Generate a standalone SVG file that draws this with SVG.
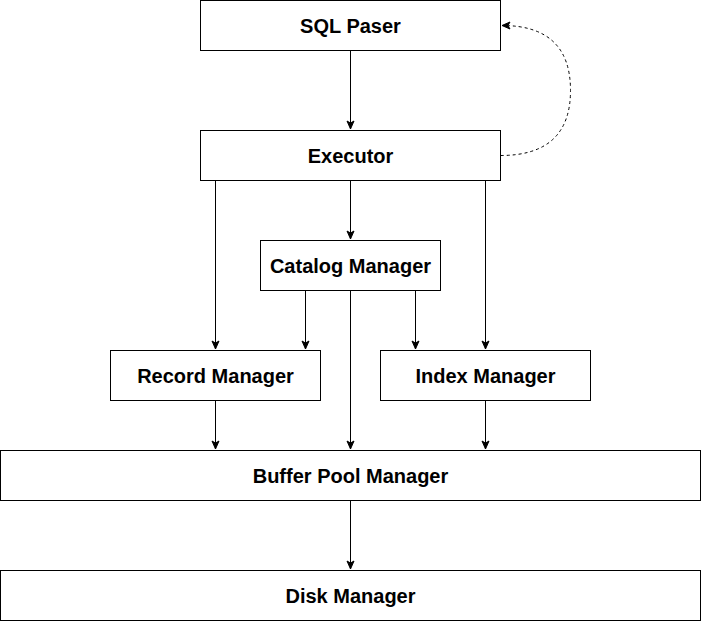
<svg xmlns="http://www.w3.org/2000/svg" width="701" height="622" viewBox="0 0 701 622">
<style>
.box{fill:#fff;stroke:#000;stroke-width:1}
.lbl{font-family:"Liberation Sans",Arial,sans-serif;font-weight:bold;font-size:20px;text-anchor:middle;fill:#000}
.e{fill:none;stroke:#000;stroke-width:1}
.d{fill:none;stroke:#000;stroke-width:1;stroke-dasharray:3 3}
</style>
<defs>
<marker id="a" viewBox="0 0 10 10" refX="9" refY="5" markerWidth="10" markerHeight="10" markerUnits="userSpaceOnUse" orient="auto">
<path d="M1,1.5 L9,5 L1,8.5 L3,5 z" fill="#000" stroke="#000" stroke-width="1"/>
</marker>
</defs>
<rect width="701" height="622" fill="#fff"/>
<g id="edges">
<path class="e" d="M350.5 50.5 V129" marker-end="url(#a)"/>
<path class="e" d="M350.5 180.5 V239" marker-end="url(#a)"/>
<path class="e" d="M215.5 180.5 V349" marker-end="url(#a)"/>
<path class="e" d="M485.5 180.5 V349" marker-end="url(#a)"/>
<path class="e" d="M305.5 290.5 V349" marker-end="url(#a)"/>
<path class="e" d="M415.5 290.5 V349" marker-end="url(#a)"/>
<path class="e" d="M350.5 290.5 V449" marker-end="url(#a)"/>
<path class="e" d="M215.5 400.5 V449" marker-end="url(#a)"/>
<path class="e" d="M485.5 400.5 V449" marker-end="url(#a)"/>
<path class="e" d="M350.5 500.5 V569" marker-end="url(#a)"/>
<path class="d" d="M500.5 155.5 Q570.5 155.5 570.5 90.5 Q570.5 25.5 502 25.5" marker-end="url(#a)"/>
</g>
<g id="sql-paser"><rect class="box" x="200.5" y="0.5" width="300" height="50"/><text class="lbl" x="350.5" y="32.5">SQL Paser</text></g>
<g id="executor"><rect class="box" x="200.5" y="130.5" width="300" height="50"/><text class="lbl" x="350.5" y="162.5">Executor</text></g>
<g id="catalog-manager"><rect class="box" x="260.5" y="240.5" width="180" height="50"/><text class="lbl" x="350.5" y="272.5">Catalog Manager</text></g>
<g id="record-manager"><rect class="box" x="110.5" y="350.5" width="210" height="50"/><text class="lbl" x="215.5" y="382.5">Record Manager</text></g>
<g id="index-manager"><rect class="box" x="380.5" y="350.5" width="210" height="50"/><text class="lbl" x="485.5" y="382.5">Index Manager</text></g>
<g id="buffer-pool-manager"><rect class="box" x="0.5" y="450.5" width="700" height="50"/><text class="lbl" x="350.5" y="482.5">Buffer Pool Manager</text></g>
<g id="disk-manager"><rect class="box" x="0.5" y="570.5" width="700" height="50"/><text class="lbl" x="350.5" y="602.5">Disk Manager</text></g>
</svg>
